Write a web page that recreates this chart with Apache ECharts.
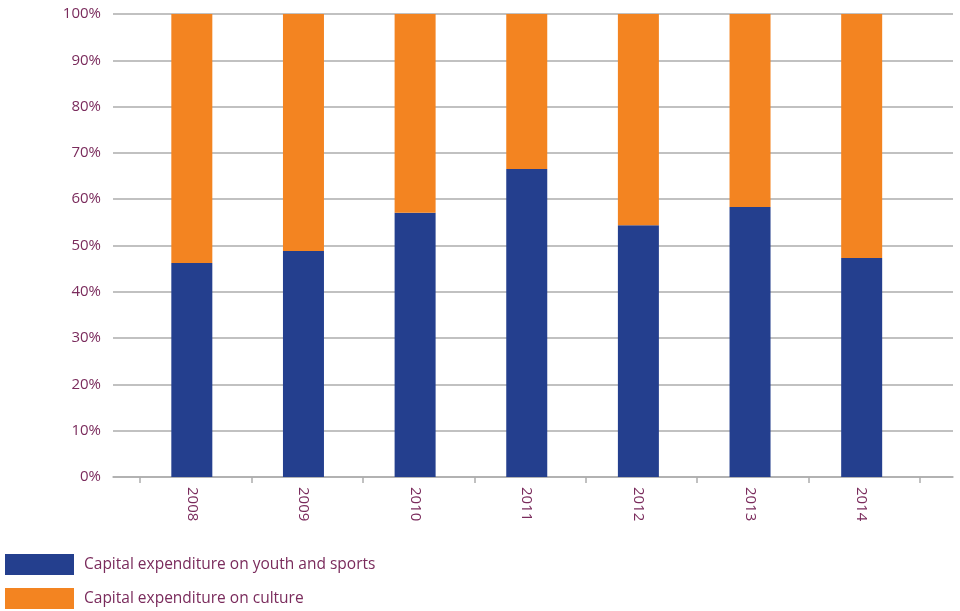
<!DOCTYPE html>
<html>
<head>
<meta charset="utf-8">
<script src="https://cdn.jsdelivr.net/npm/echarts@6/dist/echarts.min.js"></script>
<style>
  html, body { margin: 0; padding: 0; background: #fff; }
  #chart { width: 960px; height: 611px; }
</style>
</head>
<body>
<div id="chart"></div>
<script>
// Share of capital expenditure, per year (percent of total)
const years = ['2008', '2009', '2010', '2011', '2012', '2013', '2014'];
const youthSports = [46.2, 48.8, 57.1, 66.5, 54.4, 58.3, 47.3];
const culture = [53.8, 51.2, 42.9, 33.5, 45.6, 41.7, 52.7];
const seriesNames = ['Capital expenditure on youth and sports', 'Capital expenditure on culture'];

const textColor = '#7a2b5c';
const gridColor = '#adadad';
const font = 'Open Sans';

const chart = echarts.init(document.getElementById('chart'), null, { renderer: 'canvas' });

chart.setOption({
  animation: false,
  backgroundColor: '#ffffff',
  legend: {
    orient: 'vertical',
    left: 5,
    top: 554,
    padding: 0,
    itemWidth: 69,
    itemHeight: 21,
    itemGap: 13,
    icon: 'rect',
    textStyle: { color: textColor, fontSize: 15.5, fontFamily: font, padding: [3, 0, 0, 5] },
    data: seriesNames
  },
  grid: [
    // wide grid carrying the value scale, gridlines and baseline
    { left: 113, right: 7, top: 14, bottom: 134 },
    // grid carrying the category tick marks
    { left: 140, right: 40, top: 14, bottom: 134 },
    // grid holding the bars and the year labels
    { left: 136, right: 42.5, top: 14, bottom: 134 }
  ],
  xAxis: [
    {
      gridIndex: 0, type: 'value', min: 0, max: 1,
      axisLine: { show: true, lineStyle: { color: gridColor, width: 1.5 } },
      axisTick: { show: false }, axisLabel: { show: false }, splitLine: { show: false }
    },
    {
      gridIndex: 1, type: 'category', data: years,
      axisLine: { show: false },
      axisTick: { show: true, length: 6, lineStyle: { color: gridColor, width: 1.5 } },
      axisLabel: { show: false },
      splitLine: { show: false }
    },
    {
      gridIndex: 2, type: 'category', data: years,
      axisLine: { show: false },
      axisTick: { show: false },
      axisLabel: { rotate: -90, color: textColor, fontSize: 15, fontFamily: font, margin: 10 },
      splitLine: { show: false }
    }
  ],
  yAxis: [
    {
      gridIndex: 0, type: 'value', min: 0, max: 100, interval: 10,
      axisLine: { show: false }, axisTick: { show: false },
      axisLabel: { formatter: '{value}%', color: textColor, fontSize: 15, fontFamily: font, margin: 12 },
      splitLine: { show: true, lineStyle: { color: gridColor, width: 1.5 } }
    },
    {
      gridIndex: 1, type: 'value', min: 0, max: 100, interval: 10, show: false
    },
    {
      gridIndex: 2, type: 'value', min: 0, max: 100, interval: 10, show: false
    }
  ],
  series: [
    {
      name: seriesNames[0], type: 'bar', stack: 'total',
      xAxisIndex: 2, yAxisIndex: 2,
      barWidth: 41,
      itemStyle: { color: '#243f8e' },
      data: youthSports
    },
    {
      name: seriesNames[1], type: 'bar', stack: 'total',
      xAxisIndex: 2, yAxisIndex: 2,
      barWidth: 41,
      itemStyle: { color: '#f38421' },
      data: culture
    }
  ]
});
</script>
</body>
</html>
